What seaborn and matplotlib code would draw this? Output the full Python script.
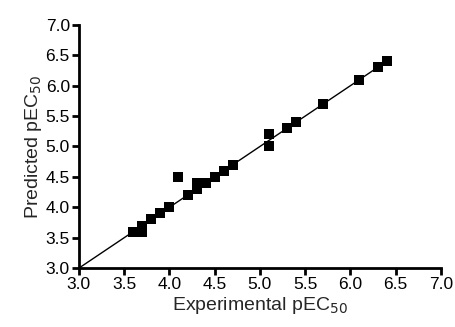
import matplotlib
matplotlib.use('Agg')
import matplotlib.pyplot as plt
import numpy as np
import pandas as pd
import seaborn as sns

# Experimental vs predicted pEC50 values
experimental = [3.6, 3.7, 3.7, 3.8, 3.9, 4.0, 4.1, 4.2, 4.3, 4.3, 4.4, 4.5,
                4.6, 4.7, 5.1, 5.1, 5.3, 5.4, 5.7, 6.1, 6.3, 6.4]
predicted = [3.6, 3.7, 3.6, 3.8, 3.9, 4.0, 4.5, 4.2, 4.3, 4.4, 4.4, 4.5,
             4.6, 4.7, 5.2, 5.0, 5.3, 5.4, 5.7, 6.1, 6.3, 6.4]
line_x = [3.0, 6.4]
line_y = [3.0, 6.4]
ticks = [3.0, 3.5, 4.0, 4.5, 5.0, 5.5, 6.0, 6.5, 7.0]

df = pd.DataFrame({'exp': experimental, 'pred': predicted})

sns.set_style('ticks')
plt.rcParams['font.family'] = ['Liberation Sans', 'DejaVu Sans']

fig = plt.figure(figsize=(4.56, 3.27), dpi=100)
ax = fig.add_axes([0.173, 0.180, 0.794, 0.744])

sns.lineplot(x=line_x, y=line_y, ax=ax, color='black', linewidth=1.0)
sns.scatterplot(data=df, x='exp', y='pred', ax=ax, marker='s', s=42,
                color='black', edgecolor='black', linewidth=0, zorder=3)

ax.set_xlim(3.0, 7.0)
ax.set_ylim(3.0, 7.0)
ax.set_xticks(ticks)
ax.set_yticks(ticks)
ax.set_xticklabels([f'{t:.1f}' for t in ticks])
ax.set_yticklabels([f'{t:.1f}' for t in ticks])
ax.tick_params(axis='both', labelsize=12.5, length=5, width=2, color='black',
               labelcolor='black', pad=1.5)
for side in ['top', 'right']:
    ax.spines[side].set_visible(False)
for side in ['left', 'bottom']:
    ax.spines[side].set_linewidth(2)
    ax.spines[side].set_color('black')

ax.set_xlabel('Experimental pEC$_{50}$', fontsize=14, labelpad=2)
ax.set_ylabel('Predicted pEC$_{50}$', fontsize=14, labelpad=1)

fig.savefig('out.png', dpi=100)
